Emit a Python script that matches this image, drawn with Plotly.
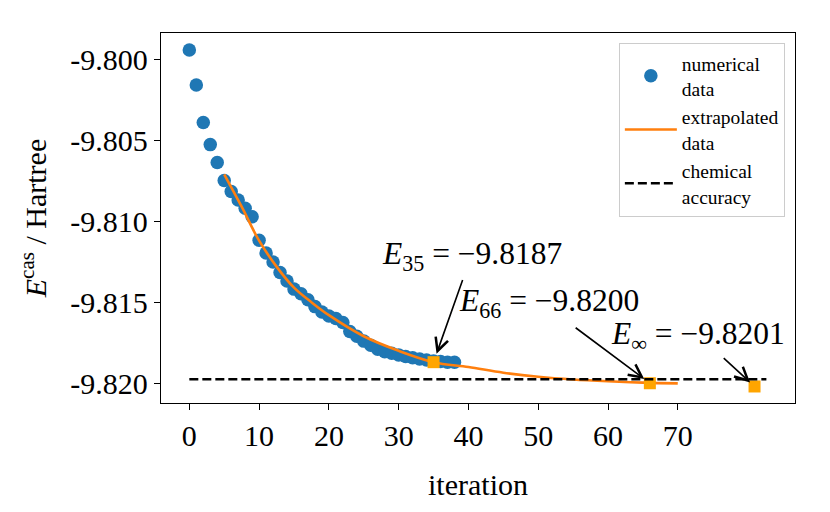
import plotly.graph_objects as go

# ---- data ----
iterations = list(range(39))
energies = [
    -9.79943, -9.80159, -9.80391, -9.80527, -9.80638, -9.80749, -9.80817, -9.80869,
    -9.80920, -9.80972, -9.81117, -9.81196, -9.81252, -9.81317, -9.81369, -9.81419,
    -9.81447, -9.81484, -9.81527, -9.81560, -9.81585, -9.81600, -9.81625, -9.81680,
    -9.81710, -9.81740, -9.81765, -9.81790, -9.81805, -9.81815, -9.81825, -9.81835,
    -9.81843, -9.81850, -9.81857, -9.81863, -9.81866, -9.81870, -9.81870,
]

extrap_x = [5, 7.5, 10, 12.5, 15, 17.5, 20, 25, 30, 35, 40, 45, 50, 55, 60, 65, 70]
extrap_y = [-9.8071, -9.8091, -9.8112, -9.8128, -9.8141, -9.8150, -9.8158, -9.8171,
            -9.8180, -9.8187, -9.81900, -9.81935, -9.81960, -9.81977, -9.81988,
            -9.81996, -9.82001]

chem_x = [0, 82.7]
chem_y = [-9.81975, -9.81975]

mark_x = [35, 66, 81]
mark_y = [-9.8187, -9.8200, -9.8202]
mark_labels = ["<i>E</i><sub>35</sub> = −9.8187",
               "<i>E</i><sub>66</sub> = −9.8200",
               "<i>E</i><sub>∞</sub> = −9.8201"]

xtick_vals = [0, 10, 20, 30, 40, 50, 60, 70]
ytick_vals = [-9.800, -9.805, -9.810, -9.815, -9.820]
ytick_text = ["-9.800", "-9.805", "-9.810", "-9.815", "-9.820"]

FONT = "Liberation Serif"

fig = go.Figure()
fig.add_trace(go.Scatter(
    x=iterations, y=energies, mode="markers",
    marker=dict(color="#1f77b4", size=13.5),
    name="numerical<br>data"))
fig.add_trace(go.Scatter(
    x=extrap_x, y=extrap_y, mode="lines", line=dict(color="#ff7f0e", width=2.6, shape="spline"),
    name="extrapolated<br>data"))
fig.add_trace(go.Scatter(
    x=mark_x, y=mark_y, mode="markers",
    marker=dict(color="orange", symbol="square", size=12),
    showlegend=False))
fig.add_trace(go.Scatter(
    x=chem_x, y=chem_y, mode="lines",
    line=dict(color="black", width=2.6, dash="9px,4px"),
    name="chemical<br>accuracy"))

# annotation text (centres offset in px from the marker) and arrows
text_offsets = [(38, -106), (-101, -80), (-57, -50)]
arrow_offsets = [(29.6, -83.7), (-75.7, -56.6), (-32.3, -29.7)]
standoffs = [9, 7, 6]
for xv, yv, lab, (tx, ty), (axo, ayo), so in zip(mark_x, mark_y, mark_labels,
                                                 text_offsets, arrow_offsets, standoffs):
    fig.add_annotation(x=xv, y=yv, text=lab, showarrow=True, arrowcolor="rgba(0,0,0,0)",
                       ax=tx, ay=ty, borderpad=0,
                       font=dict(family=FONT, size=31.5, color="black"))
    fig.add_annotation(x=xv, y=yv, text="", showarrow=True, ax=axo, ay=ayo,
                       arrowhead=5, arrowsize=1.6, arrowwidth=1.6, arrowcolor="black",
                       standoff=so)

axis_common = dict(showline=True, linecolor="black", linewidth=1.3, mirror=True,
                   ticks="outside", ticklen=6, tickwidth=1.3, tickcolor="black",
                   showgrid=False, zeroline=False, automargin=False,
                   tickfont=dict(family=FONT, size=30, color="black"))

fig.update_xaxes(range=[-4.06, 86.8], tickvals=xtick_vals,
                 title=dict(text="iteration", font=dict(family=FONT, size=30, color="black"),
                            standoff=22),
                 **axis_common)
fig.update_yaxes(range=[-9.82122, -9.79838], tickvals=ytick_vals, ticktext=ytick_text,
                 title=dict(text="<i>E</i><sup>cas</sup> / Hartree",
                            font=dict(family=FONT, size=30, color="black"), standoff=14),
                 **axis_common)

fig.update_layout(
    width=830, height=512,
    margin=dict(l=161, r=35, t=33, b=109),
    paper_bgcolor="white", plot_bgcolor="white",
    font=dict(family=FONT, color="black"),
    legend=dict(x=0.984, y=0.973, xanchor="right", yanchor="top",
                bgcolor="white", bordercolor="#cccccc", borderwidth=1,
                font=dict(family=FONT, size=19.5, color="black"),
                itemwidth=52, tracegroupgap=0),
)

fig.write_html("out.html", config={"displayModeBar": False},
               post_script="document.body.style.margin='0';document.body.style.overflow='hidden';")
